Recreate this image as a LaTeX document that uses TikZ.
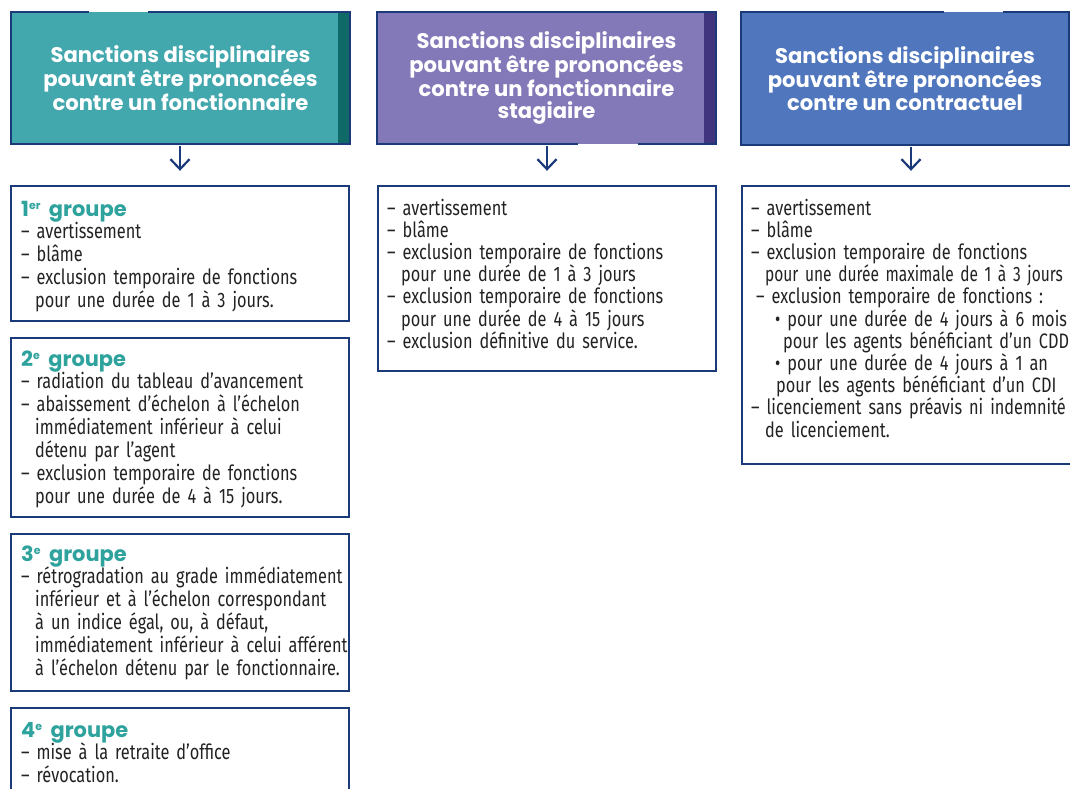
\documentclass[tikz,border=0pt]{standalone}
\usepackage{fontspec}
\usepackage{graphicx}
\setmainfont{Fira Sans}[FakeStretch=0.78, WordSpace=0.8]
\newfontfamily\headfont{Poppins}
\usetikzlibrary{arrows.meta}
\definecolor{navy}{HTML}{1B3A7A}
\definecolor{tealF}{HTML}{43A7AE}
\definecolor{tealD}{HTML}{0F6967}
\definecolor{purpF}{HTML}{8379B8}
\definecolor{purpD}{HTML}{41347F}
\definecolor{blueF}{HTML}{5077BD}
\definecolor{grpT}{HTML}{2EA29D}
\definecolor{txt}{HTML}{222222}
\newcommand\ind{\hspace*{14bp}}
\newcommand\grp[2]{{\headfont\bfseries\color{grpT}#1\raisebox{0.55ex}{\fontsize{11}{11}\selectfont #2}\hspace{1.5bp} groupe}}
\tikzset{
  hdr/.style={inner sep=0pt, text=white, align=center,
    font=\headfont\bfseries\fontsize{21.2}{22.6}\selectfont},
  bord/.style={draw=navy, line width=2.4bp},
  cbox/.style={draw=navy, line width=2.4bp, inner sep=0pt},
  body/.style={inner sep=0pt, anchor=base west, text=txt, text width=335bp, align=left,
    font=\fontsize{21}{23}\selectfont},
  arr/.style={draw=navy, line width=2.2bp, -{Straight Barb[length=10bp,width=19bp]},
    shorten <=2bp, shorten >=14bp}
}
\begin{document}
\begin{tikzpicture}[x=1bp,y=-1bp]
\useasboundingbox (0,0) rectangle (1070,789);
\clip (0,0) rectangle (1070,789);
% headers
\node[hdr, fill=tealF, minimum width=339bp, minimum height=132bp] (h1) at (180.5,78)
  {Sanctions disciplinaires\\pouvant être prononcées\\contre un fonctionnaire};
\fill[tealD] ([xshift=-12bp]h1.north east) rectangle (h1.south east);
\draw[bord] ([xshift=78bp]h1.north west) -| (h1.south west) -| (h1.north east) -- ([xshift=137bp]h1.north west);

\node[hdr, fill=purpF, minimum width=339bp, minimum height=132bp] (h2) at (546.5,78)
  {Sanctions disciplinaires\\pouvant être prononcées\\contre un fonctionnaire\\stagiaire};
\fill[purpD] ([xshift=-12bp]h2.north east) rectangle (h2.south east);
\draw[bord] ([xshift=201bp]h2.south west) -| (h2.north west) -| (h2.south east) -- ([xshift=261bp]h2.south west);

\node[hdr, fill=blueF, minimum width=328bp, minimum height=133bp] (h3) at (905,78.5)
  {Sanctions disciplinaires\\pouvant être prononcées\\contre un contractuel};
\draw[bord] ([xshift=203bp]h3.north west) -| (h3.south west) -| (h3.north east) -- ([xshift=262bp]h3.north west);

% content boxes
\node[cbox, minimum width=338bp, minimum height=135bp] (b1) at (180,253.5) {};
\node[cbox, minimum width=338bp, minimum height=179bp] (b2) at (180,427.5) {};
\node[cbox, minimum width=338bp, minimum height=157bp] (b3) at (180,612.5) {};
\node[cbox, minimum width=338bp, minimum height=92bp] (b4) at (180,754) {};
\node[cbox, minimum width=338bp, minimum height=185bp] (m1) at (547,278.5) {};
\node[cbox, minimum width=338bp, minimum height=278bp] (r1) at (911,325) {};

% arrows
\draw[arr] (h1.south -| b1.north) -- (b1.north);
\draw[arr] (h2.south -| m1.north) -- (m1.north);
\draw[arr] (h3.south -| r1.north) -- (r1.north);

% texts
\node[body] (t1) at (21,216) {\grp{1}{er}\\
– avertissement\\
– blâme\\
– exclusion temporaire de fonctions\\
\ind pour une durée de 1 à 3 jours.};

\node[body] (t2) at (21,366) {\grp{2}{e}\\
– radiation du tableau d’avancement\\
– abaissement d’échelon à l’échelon\\
\ind immédiatement inférieur à celui\\
\ind détenu par l’agent\\
– exclusion temporaire de fonctions\\
\ind pour une durée de 4 à 15 jours.};

\node[body] (t3) at (21,561) {\grp{3}{e}\\
– rétrogradation au grade immédiatement\\
\ind inférieur et à l’échelon correspondant\\
\ind à un indice égal, ou, à défaut,\\
\ind immédiatement inférieur à celui afférent\\
\ind à l’échelon détenu par le fonctionnaire.};

\node[body] (t4) at (21,737) {\grp{4}{e}\\
– mise à la retraite d’office\\
– révocation.};

\node[body, font=\fontsize{21}{22.3}\selectfont] (t5) at (387,215) {– avertissement\\
– blâme\\
– exclusion temporaire de fonctions\\
\ind pour une durée de 1 à 3 jours\\
– exclusion temporaire de fonctions\\
\ind pour une durée de 4 à 15 jours\\
– exclusion définitive du service.};

\node[body, font=\fontsize{21}{22.3}\selectfont] (t6) at (751,215) {– avertissement\\
– blâme\\
– exclusion temporaire de fonctions\\
\ind \scalebox{0.95}[1]{pour une durée maximale de 1 à 3 jours}\\
\hspace*{5bp}– exclusion temporaire de fonctions :\\
\hspace*{24bp}• pour une durée de 4 jours à 6 mois\\
\hspace*{32bp}pour les agents bénéficiant d’un CDD\\
\hspace*{24bp}• pour une durée de 4 jours à 1 an\\
\hspace*{25bp}pour les agents bénéficiant d’un CDI\\
– licenciement sans préavis ni indemnité\\
\ind de licenciement.};
\end{tikzpicture}
\end{document}
